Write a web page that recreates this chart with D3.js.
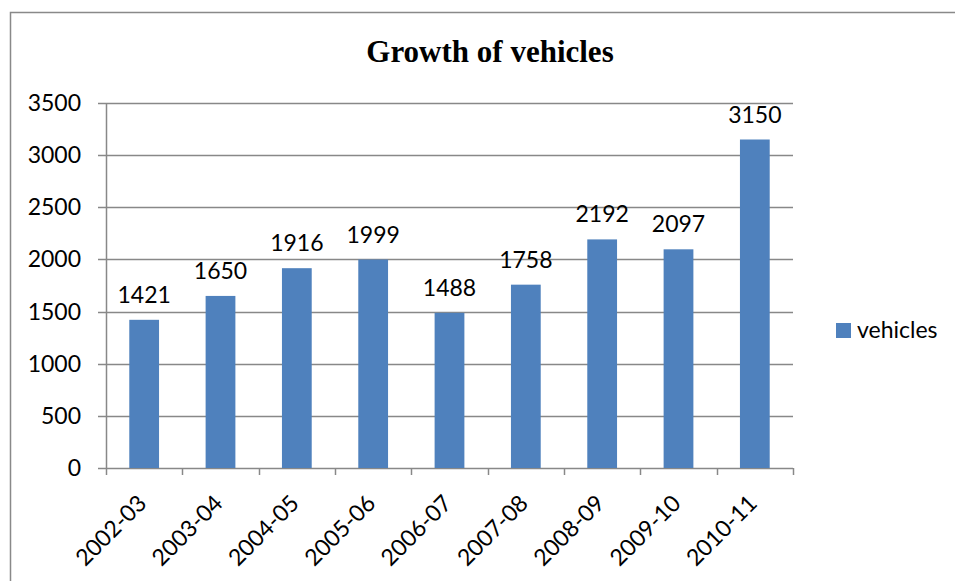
<!DOCTYPE html>
<html>
<head>
<style>
  body { margin: 0; background: #fff; }
  text { font-family: Lato, "Liberation Sans", sans-serif; }
</style>
</head>
<body>

<script src="https://d3js.org/d3.v7.min.js"></script>

<script>

const years = ['2002-03', '2003-04', '2004-05', '2005-06', '2006-07', '2007-08', '2008-09', '2009-10', '2010-11'];
const vehicles = [1421, 1650, 1916, 1999, 1488, 1758, 2192, 2097, 3150];
const yTicks = [0, 500, 1000, 1500, 2000, 2500, 3000, 3500];

const width = 955;
const height = 581;
const margin = { top: 103, left: 106, right: 162, bottom: 113 };

const svg = d3.select('body')
              .append('svg')
              .attr('width', width)
              .attr('height', height);

// chart frame
svg.append('rect')
  .attr('x', 10.5).attr('y', 12.5)
  .attr('width', 960).attr('height', 600)
  .attr('fill', 'none')
  .attr('stroke', '#898989')
  .attr('stroke-width', 1.5);

svg.append('text')
  .attr('x', 490).attr('y', 62)
  .attr('text-anchor', 'middle')
  .style('font-family', '"Liberation Serif", serif')
  .style('font-weight', 'bold')
  .style('font-size', '31px')
  .text('Growth of vehicles');

const x = d3.scaleBand()
  .domain(years)
  .range([margin.left, width - margin.right])
  .paddingInner(0.61)
  .paddingOuter(0.305);

const y = d3.scaleLinear()
  .domain([0, 3500])
  .range([height - margin.bottom, margin.top]);

const g = svg.append('g');

// gridlines
g.selectAll('.grid')
  .data(yTicks)
  .enter()
  .append('line')
    .attr('x1', margin.left - 8)
    .attr('x2', width - margin.right)
    .attr('y1', d => Math.round(y(d)) + 0.5)
    .attr('y2', d => Math.round(y(d)) + 0.5)
    .attr('stroke', '#888')
    .attr('stroke-width', 1.5);

// y axis line
g.append('line')
  .attr('x1', margin.left + 0.5).attr('x2', margin.left + 0.5)
  .attr('y1', margin.top).attr('y2', height - margin.bottom)
  .attr('stroke', '#888')
  .attr('stroke-width', 1.5);

// x tick marks at band boundaries
const edges = years.map(d => x(d) - x.step() * x.paddingInner() / 2);
edges.push(width - margin.right);
g.selectAll('.xtick')
  .data(edges)
  .enter()
  .append('line')
    .attr('x1', d => Math.round(d) + 0.5)
    .attr('x2', d => Math.round(d) + 0.5)
    .attr('y1', y(0))
    .attr('y2', y(0) + 7)
    .attr('stroke', '#888')
    .attr('stroke-width', 1.5);

g.selectAll('.ylab')
  .data(yTicks)
  .enter()
  .append('text')
    .attr('x', 81)
    .attr('y', d => y(d) + 8)
    .attr('text-anchor', 'end')
    .style('font-size', '23px')
    .text(d => d);

g.selectAll('.bar')
  .data(vehicles)
  .enter()
  .append('rect')
    .attr('x', (d, i) => x(years[i]))
    .attr('y', d => y(d))
    .attr('width', x.bandwidth())
    .attr('height', d => y(0) - y(d))
    .attr('fill', '#4f81bd');

g.selectAll('.val')
  .data(vehicles)
  .enter()
  .append('text')
    .attr('x', (d, i) => x(years[i]) + x.bandwidth() / 2)
    .attr('y', d => y(d) - 17)
    .attr('text-anchor', 'middle')
    .style('font-size', '23px')
    .text(d => d);

g.selectAll('.xlab')
  .data(years)
  .enter()
  .append('text')
    .attr('transform', d => `translate(${x(d) + x.bandwidth() / 2 - 2},${y(0) + 31}) rotate(-45)`)
    .attr('text-anchor', 'end')
    .attr('dy', '0.35em')
    .style('font-size', '23px')
    .text(d => d);

// legend
svg.append('rect')
  .attr('x', 836).attr('y', 323)
  .attr('width', 15).attr('height', 15)
  .attr('fill', '#4f81bd');

svg.append('text')
  .attr('x', 857).attr('y', 338)
  .style('font-size', '23px')
  .text('vehicles');

</script>
</body>
</html>
